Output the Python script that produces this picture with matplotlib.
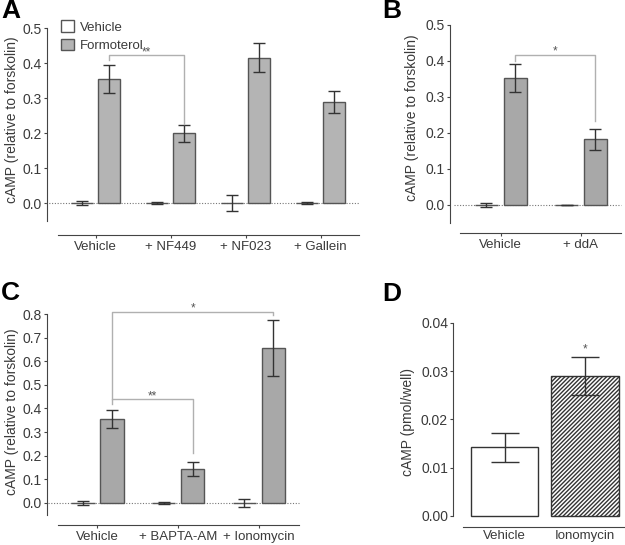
import numpy as np
import matplotlib.pyplot as plt
from matplotlib.patches import Patch

plt.rcParams['font.family'] = ['Liberation Sans', 'DejaVu Sans']
plt.rcParams['font.size'] = 9.5
plt.rcParams['hatch.linewidth'] = 1.0

# panel A
a_groups = ["Vehicle", "+ NF449", "+ NF023", "+ Gallein"]
a_veh = [0.0, 0.0, 0.0, 0.0]
a_veh_err = [0.007, 0.002, 0.024, 0.003]
a_form = [0.353, 0.199, 0.415, 0.289]
a_form_err = [0.040, 0.024, 0.042, 0.032]

# panel B
b_groups = ["Vehicle", "+ ddA"]
b_veh = [0.0, 0.0]
b_veh_err = [0.006, 0.0008]
b_form = [0.353, 0.183]
b_form_err = [0.040, 0.029]

# panel C
c_groups = ["Vehicle", "+ BAPTA-AM", "+ Ionomycin"]
c_veh = [0.0, 0.0, 0.0]
c_veh_err = [0.007, 0.005, 0.017]
c_form = [0.355, 0.143, 0.657]
c_form_err = [0.038, 0.030, 0.118]

# panel D
d_groups = ["Vehicle", "Ionomycin"]
d_vals = [0.0142, 0.0290]
d_err = [0.0031, 0.0040]

W, H = 625, 545
fig = plt.figure(figsize=(W / 100, H / 100), dpi=100)
PT = 0.72  # points per pixel at dpi 100

EDGE = '#555555'
ERR = '#333333'
BRK = '#b0b0b0'


def make_axes(left, right, top, bottom):
    # pixel box -> figure fraction
    return fig.add_axes([left / W, 1 - bottom / H, (right - left) / W, (bottom - top) / H])


def style(ax, ybounds, yticks, fmt, offset_px, xlabels, xticks=True):
    for s in ['top', 'right']:
        ax.spines[s].set_visible(False)
    ax.spines['left'].set_position(('outward', offset_px * PT))
    ax.spines['left'].set_bounds(*ybounds)
    ax.spines['left'].set_color('#444444')
    ax.spines['bottom'].set_color('#444444')
    ax.set_yticks(yticks)
    ax.set_yticklabels([fmt % v for v in yticks])
    ax.set_xticks(range(len(xlabels)))
    ax.set_xticklabels(xlabels)
    ax.tick_params(axis='y', length=3.5 * PT, width=0.8, colors='#444444',
                   labelcolor='#3a3a3a', labelsize=10, pad=1)
    ax.tick_params(axis='x', length=(3 if xticks else 0) * PT, width=0.8, colors='#444444',
                   labelcolor='#3a3a3a', labelsize=9.5, pad=2.5)


def ylab(ax, text, x, y=0.55):
    ax.set_ylabel(text, fontsize=10, color='#3a3a3a', va='center')
    ax.yaxis.set_label_coords(x, y)


def grouped(ax, veh, veh_err, form, form_err, color):
    x = np.arange(len(veh))
    off, bw = 0.18, 0.29
    ax.bar(x - off, veh, bw, color='white', edgecolor=EDGE, linewidth=1, zorder=3)
    ax.errorbar(x - off, veh, yerr=veh_err, fmt='none', ecolor=ERR, elinewidth=1,
                capsize=4, capthick=1, zorder=4)
    ax.bar(x + off, form, bw, color=color, edgecolor=EDGE, linewidth=1, zorder=3)
    ax.errorbar(x + off, form, yerr=form_err, fmt='none', ecolor=ERR, elinewidth=1,
                capsize=4.5, capthick=1, zorder=4)
    ax.axhline(0, xmin=-0.04, xmax=1, color='#777777', lw=0.8, ls=(0, (1, 1.5)),
               clip_on=False, zorder=2)
    return x + off


def bracket(ax, x1, x2, y, y1, y2, label):
    ax.plot([x1, x1, x2, x2], [y1, y, y, y2], color=BRK, lw=1, clip_on=False, zorder=5)
    ax.text((x1 + x2) / 2, y, label, ha='center', va='baseline', fontsize=8.5,
            color='#555555', clip_on=False)


# ---- A ----
axA = make_axes(58, 359, 28, 235)
axA.set_xlim(-0.5, 3.51)
axA.set_ylim(-0.0914, 0.5)
xf = grouped(axA, a_veh, a_veh_err, a_form, a_form_err, '#b4b4b4')
style(axA, (-0.05, 0.5), np.arange(0, 0.51, 0.1), '%.1f', 11, a_groups)
ylab(axA, "cAMP (relative to forskolin)", (12 - 58) / 301, (235 - 120) / 207)
bracket(axA, xf[0], xf[1], 0.423, 0.41, 0.225, '**')
axA.legend(handles=[Patch(facecolor='white', edgecolor=EDGE, label='Vehicle'),
                    Patch(facecolor='#b4b4b4', edgecolor=EDGE, label='Formoterol')],
           loc='upper left', bbox_to_anchor=(56 / W, 1 - 15 / H), bbox_transform=fig.transFigure,
           frameon=False, handlelength=0.95, handleheight=0.95, handletextpad=0.45,
           labelspacing=0.4, borderaxespad=0, fontsize=9.5, labelcolor='#3a3a3a')

# ---- B ----
axB = make_axes(460, 621, 25, 233)
axB.set_xlim(-0.51, 1.5)
axB.set_ylim(-0.0778, 0.5)
xf = grouped(axB, b_veh, b_veh_err, b_form, b_form_err, '#a8a8a8')
style(axB, (-0.05, 0.5), np.arange(0, 0.51, 0.1), '%.1f', 10, b_groups)
ylab(axB, "cAMP (relative to forskolin)", (412 - 460) / 161, (233 - 118) / 208)
bracket(axB, xf[0], xf[1], 0.417, 0.40, 0.233, '*')

# ---- C ----
axC = make_axes(58, 299, 314, 525)
axC.set_xlim(-0.49, 2.5)
axC.set_ylim(-0.0932, 0.8)
xf = grouped(axC, c_veh, c_veh_err, c_form, c_form_err, '#a8a8a8')
style(axC, (-0.05, 0.8), np.arange(0, 0.81, 0.1), '%.1f', 11, c_groups)
ylab(axC, "cAMP (relative to forskolin)", (12 - 58) / 241, (525 - 412) / 211)
bracket(axC, xf[0], xf[2], 0.81, 0.44, 0.795, '*')
bracket(axC, xf[0], xf[1], 0.44, 0.42, 0.21, '**')

# ---- D ----
axD = make_axes(463, 625, 323, 527)
axD.set_xlim(-0.52, 1.5)
axD.set_ylim(-0.00228, 0.04)
xd = np.arange(len(d_vals))
axD.bar(xd, d_vals, 0.84, color=['white', 'white'], edgecolor='#333333', linewidth=1,
        hatch=['', '////////'], zorder=3)
axD.errorbar(xd, d_vals, yerr=d_err, fmt='none', ecolor=ERR, elinewidth=1,
             capsize=10, capthick=1, zorder=4)
style(axD, (0, 0.04), np.arange(0, 0.041, 0.01), '%.2f', 10, d_groups, xticks=False)
ylab(axD, "cAMP (pmol/well)", (408 - 463) / 162, (527 - 422) / 204)
axD.text(xd[1], d_vals[1] + d_err[1] + 0.0009, '*', ha='center', va='baseline',
         fontsize=8.5, color='#555555')

# panel letters
for lab, (px, py) in zip("ABCD", [(1, -1), (382, -1), (1, 281), (382, 282)]):
    fig.text(px / W, 1 - py / H, lab, fontsize=19, fontweight='bold', va='top', ha='left')

fig.savefig("out.png", dpi=100)
